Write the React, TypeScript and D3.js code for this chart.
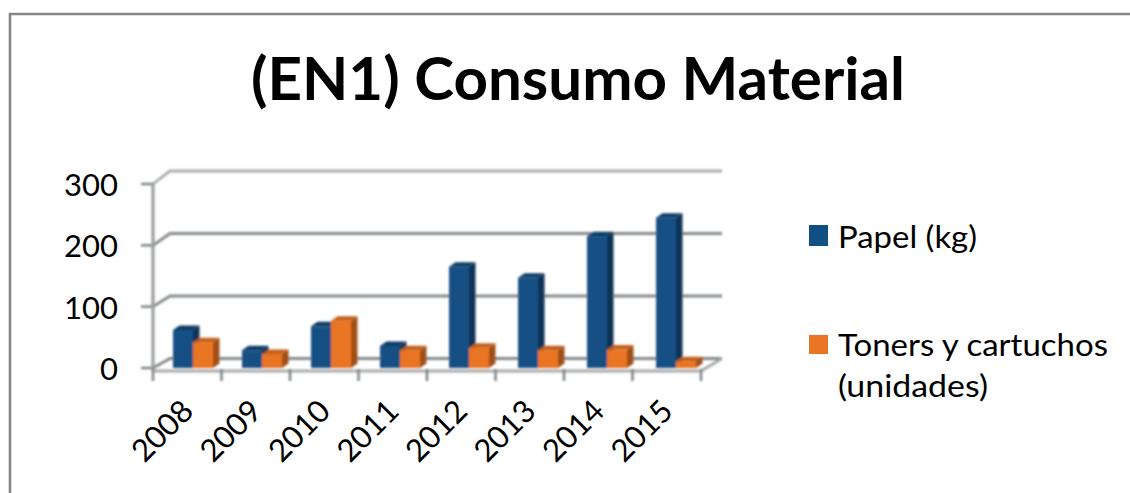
import React from "react";
import * as d3 from "d3";

const categories = ["2008", "2009", "2010", "2011", "2012", "2013", "2014", "2015"];
const papel = [62, 29, 68, 36, 165, 147, 215, 245];
const toners = [42, 23, 77, 29, 33, 29, 30, 11];
const yTicks = [0, 100, 200, 300];
const titleText = "(EN1) Consumo Material";
const seriesNames = ["Papel (kg)", "Toners y cartuchos", "(unidades)"];

const W = 1130, H = 493;
const font = "Lato, 'Open Sans', sans-serif";
const x = d3.scaleBand<string>().domain(categories).range([153, 701]);
const barX = d3.scaleBand<string>().domain(categories).range([153, 705]);
const y = d3.scaleLinear().domain([0, 300]).range([368, 184]);
const inner = d3.scaleBand<string>().domain(["papel", "toners"]).range([20, 60]);
const DX = 6.5, DY = 4.5;
const BACKX = 17, BACKY = 9.5;
const gridBack = (v: number) => y(v) - BACKY - (v / 300) * 3.5;

function Bar({ cat, ser, v, front, side, top }: any) {
  const x0 = barX(cat)! + inner(ser)!;
  const w = inner.bandwidth();
  const y0 = y(v), y1 = y(0);
  return (
    <g>
      <path d={`M${x0 + w},${y0} l${DX},${-DY} L${x0 + w + DX},${y1 - DY} L${x0 + w},${y1} Z`} fill={side} />
      <path d={`M${x0},${y0} l${DX},${-DY} h${w} l${-DX},${DY} Z`} fill={top} />
      <rect x={x0} y={y0} width={w} height={y1 - y0} fill={front} />
    </g>
  );
}

export default function App() {
  return (
    <svg width={W} height={H} style={{ position: "absolute", left: 0, top: 0, background: "#fff" }}>
      <defs>
        <filter id="soft" x="-5%" y="-5%" width="110%" height="110%">
          <feGaussianBlur stdDeviation="0.8" />
        </filter>
      </defs>
      <path d={`M${W},14 H10 V${H}`} fill="none" stroke="#868686" strokeWidth={2.6} />
      <g filter="url(#soft)">
        {yTicks.map((t) => (
          <g key={t} stroke={t === 300 ? "#a9abab" : "#858989"} fill="none">
            <path d={`M153,${y(t)} L${153 + BACKX},${gridBack(t)} H722`} strokeWidth={2.8} />
            <path d={`M141,${y(t)} H153`} stroke="#7c8080" strokeWidth={2.4} />
          </g>
        ))}
        <path d="M153,184 V371" stroke="#9a9d9d" strokeWidth={3.2} fill="none" />
        <path d={`M153,371 H701 L722,${gridBack(0)}`} stroke="#a8aaaa" strokeWidth={3.2} fill="none" />
        {[...categories.map((c) => x(c)!), 701].map((p, i) => (
          <path key={i} d={`M${p},369 V381`} stroke="#7c8080" strokeWidth={2.4} />
        ))}
        {categories.map((c, i) => (
          <g key={c}>
            <Bar cat={c} ser="papel" v={papel[i]} front="#124f84" side="#0c3354" top="#0e3d66" />
            <Bar cat={c} ser="toners" v={toners[i]} front="#e97424" side="#a04f18" top="#c2601c" />
          </g>
        ))}
      </g>
      <text x={578} y={100} textAnchor="middle" fontFamily={font} fontWeight={700} fontSize={60} fill="#000" textLength={654} lengthAdjust="spacingAndGlyphs">{titleText}</text>
      {yTicks.map((t) => (
        <text key={t} x={118} y={y(t) + 12} textAnchor="end" fontFamily={font} fontSize={31} fill="#000">{t}</text>
      ))}
      {categories.map((c) => {
        const px = x(c)! + x.bandwidth() / 2 + 8;
        return (
          <text key={c} transform={`translate(${px},413) rotate(-45)`} textAnchor="end" fontFamily={font} fontSize={31} fill="#000">{c}</text>
        );
      })}
      <rect x={809} y={225} width={19} height={21} fill="#124f84" />
      <rect x={809} y={335} width={19} height={19} fill="#e97424" />
      <text x={838} y={248} fontFamily={font} fontSize={31} textLength={139} lengthAdjust="spacingAndGlyphs">{seriesNames[0]}</text>
      <text x={838} y={356} fontFamily={font} fontSize={31} textLength={270} lengthAdjust="spacingAndGlyphs">{seriesNames[1]}</text>
      <text x={838} y={397} fontFamily={font} fontSize={31} textLength={150} lengthAdjust="spacingAndGlyphs">{seriesNames[2]}</text>
    </svg>
  );
}
